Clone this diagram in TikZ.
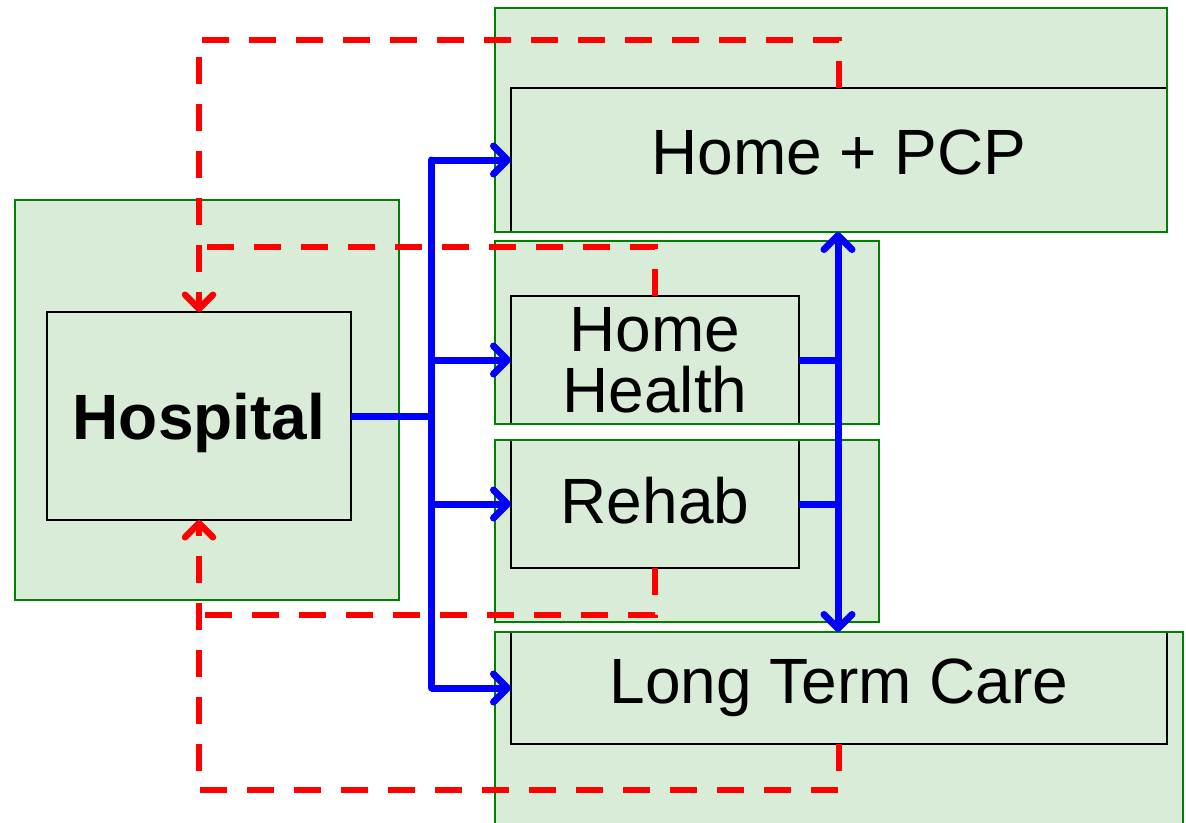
\documentclass[tikz,border=0pt]{standalone}
\usepackage{fontspec}
\setmainfont{Liberation Sans}
\usetikzlibrary{arrows.meta}
\definecolor{boxfill}{RGB}{216,236,216}
\definecolor{grnline}{RGB}{0,128,0}
\definecolor{blueline}{RGB}{0,0,255}
\definecolor{redline}{RGB}{255,0,0}
\tikzset{chev/.tip={Straight Barb[length=14pt,width=28pt,line cap=round,line join=round]}}
\begin{document}
\begin{tikzpicture}[x=1pt,y=-1pt,
  outerbox/.style={fill=boxfill, inner sep=0pt, outer sep=0pt, anchor=north west},
  innerbox/.style={draw=black, line width=2.2pt, inner sep=0pt, outer sep=0pt, anchor=north west,
     font=\fontsize{64}{61}\selectfont, align=center},
  greenrim/.style={draw=grnline, line width=2.6pt},
  bluelink/.style={draw=blueline, line width=7pt},
  redlink/.style={draw=redline, line width=6.5pt, dash pattern=on 27pt off 20pt}]
\clip (0,0) rectangle (1186,822);
\useasboundingbox (0,0) rectangle (1186,822);
% outer shaded boxes
\node[outerbox, minimum width=384pt, minimum height=400pt] (hospO) at (15,200) {};
\node[outerbox, minimum width=672pt, minimum height=224pt] (pcpO) at (495,8) {};
\node[outerbox, minimum width=384pt, minimum height=183pt] (hhO) at (495,241) {};
\node[outerbox, minimum width=384pt, minimum height=182pt] (rehO) at (495,440) {};
\node[outerbox, minimum width=688pt, minimum height=220pt] (ltcO) at (495,632) {};
% inner boxes
\node[innerbox, minimum width=304pt, minimum height=208pt, text depth=0pt, font=\fontsize{64}{61}\selectfont\bfseries] (hospI) at (47,312) {Hospital};
\node[innerbox, minimum width=656pt, minimum height=144pt, text depth=16pt] (pcpI) at (511,88) {Home + PCP};
\node[innerbox, minimum width=288pt, minimum height=128pt] (hhI) at (511,296) {Home\\Health};
\node[innerbox, minimum width=288pt, minimum height=128pt, text depth=8pt] (rehI) at (511,440) {Rehab};
\node[innerbox, minimum width=656pt, minimum height=112pt, text depth=14pt] (ltcI) at (511,632) {Long Term Care};
% green rims on top
\foreach \n in {hospO,pcpO,hhO,rehO,ltcO}
  \draw[greenrim] (\n.north west) rectangle (\n.south east);
% helper coordinates
\coordinate (bx) at (431,0);
\coordinate (rx) at (838,0);
\coordinate (rtop) at (199,40);
\coordinate (rbot) at (199,790);
\coordinate (ry1) at (0,247);
\coordinate (ry2) at (0,615);
% red dashed feedback
\draw[redlink, -chev] (pcpI.north) |- (rtop) -- (hospI.north);
\draw[redlink] (hhI.north) |- (hospI.north |- ry1);
\draw[redlink, -chev] (ltcI.south) |- (rbot) -- (hospI.south);
\draw[redlink] (rehI.south) |- (hospI.south |- ry2);
% blue flows
\draw[bluelink] (hospI.east) -- (hospI.east -| bx);
\draw[bluelink, line cap=round] (pcpI.west -| bx) -- (ltcI.west -| bx);
\draw[bluelink, -chev] (pcpI.west -| bx) -- (pcpI.west);
\draw[bluelink, -chev] (hhI.west -| bx) -- (hhI.west);
\draw[bluelink, -chev] (rehI.west -| bx) -- (rehI.west);
\draw[bluelink, -chev] (ltcI.west -| bx) -- (ltcI.west);
\draw[bluelink] (hhI.east) -- (hhI.east -| rx);
\draw[bluelink] (rehI.east) -- (rehI.east -| rx);
\draw[bluelink, chev-chev] (pcpO.south -| rx) -- (ltcO.north -| rx);
\end{tikzpicture}
\end{document}
